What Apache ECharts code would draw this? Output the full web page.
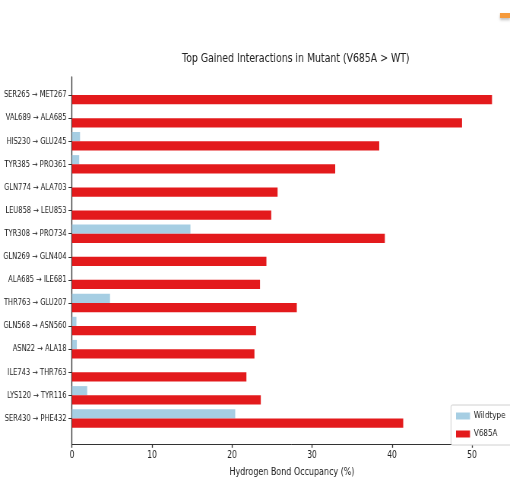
<!DOCTYPE html>
<html>
<head>
<meta charset="utf-8">
<script src="https://cdn.jsdelivr.net/npm/echarts@6/dist/echarts.min.js"></script>
<style>
  html, body { margin: 0; padding: 0; background: #fff; overflow: hidden; }
  /* the figure is laid out wide and then compressed horizontally */
  #chart { width: 671px; height: 481px; transform: scaleX(0.76); transform-origin: 0 0; }
</style>
</head>
<body>
<div id="chart"></div>
<script>
// Hydrogen-bond pairs gained in the mutant, listed top to bottom
const categories = [
  "SER265 → MET267", "VAL689 → ALA685", "HIS230 → GLU245", "TYR385 → PRO361",
  "GLN774 → ALA703", "LEU858 → LEU853", "TYR308 → PRO734", "GLN269 → GLN404",
  "ALA685 → ILE681", "THR763 → GLU207", "GLN568 → ASN560", "ASN22 → ALA18",
  "ILE743 → THR763", "LYS120 → TYR116", "SER430 → PHE432"
];
// Occupancy (%) per pair
const wildtype = [0, 0, 1.0, 0.9, 0, 0, 14.8, 0, 0, 4.75, 0.55, 0.6, 0, 1.9, 20.4];
const v685a = [52.5, 48.75, 38.4, 32.9, 25.7, 24.9, 39.1, 24.3, 23.5, 28.1, 23.0, 22.8, 21.8, 23.6, 41.4];
const seriesNames = ["Wildtype", "V685A"];
const xTickValues = [0, 10, 20, 30, 40, 50];
const xRange = [0, 55];

const FONT = "'DejaVu Sans', sans-serif";
const SX = 0.76;            // horizontal compression applied by the stylesheet
const px = v => v / SX;     // convert an on-screen horizontal length to layout units

const chart = echarts.init(document.getElementById("chart"), null, { renderer: "canvas" });

chart.setOption({
  animation: false,
  backgroundColor: "#ffffff",
  title: {
    text: "Top Gained Interactions in Mutant (V685A > WT)",
    left: px(292), top: 47.5, textAlign: "center",
    textStyle: { fontFamily: FONT, fontSize: 12.3, fontWeight: "normal", color: "#222" }
  },
  legend: {
    data: seriesNames,
    orient: "vertical",
    left: px(451), top: 405,
    itemWidth: px(14), itemHeight: 7, itemGap: 8,
    padding: [6, px(6), 6, px(5)],
    backgroundColor: "#fff",
    borderColor: "#d0d0d0", borderWidth: 1, borderRadius: 2,
    textStyle: { fontFamily: FONT, fontSize: 9.5, color: "#222" },
    icon: "rect"
  },
  grid: [
    // bar area: one band per pair
    { left: px(72), top: 83.5, width: px(440), height: 346.5, outerBoundsMode: "none", containLabel: false },
    // axes frame (left and bottom spines)
    { left: px(72), top: 77, width: px(440), height: 367.3, outerBoundsMode: "none", containLabel: false }
  ],
  xAxis: [
    {
      gridIndex: 0, type: "value", min: xRange[0], max: xRange[1],
      show: false
    },
    {
      gridIndex: 1, type: "value", min: xRange[0], max: xRange[1],
      name: "Hydrogen Bond Occupancy (%)", nameLocation: "middle", nameGap: 22,
      nameTextStyle: { fontFamily: FONT, fontSize: 10.5, color: "#222" },
      axisLine: { show: true, lineStyle: { color: "#333", width: 1 } },
      axisTick: { show: true, inside: false, length: 3.5, lineStyle: { color: "#333", width: px(1) }, customValues: xTickValues },
      axisLabel: { fontFamily: FONT, fontSize: 10, color: "#222", margin: 6, customValues: xTickValues },
      splitLine: { show: false }
    }
  ],
  yAxis: [
    {
      gridIndex: 0, type: "category", data: categories, inverse: true,
      axisLine: { show: false },
      axisTick: { show: true, alignWithLabel: true, length: px(3.5), lineStyle: { color: "#333" } },
      axisLabel: { fontFamily: FONT, fontSize: 8.8, color: "#222", margin: px(5.5), interval: 0 },
      splitLine: { show: false }
    },
    {
      gridIndex: 1, type: "value", min: 0, max: 1,
      axisLine: { show: true, lineStyle: { color: "#333", width: px(1) } },
      axisTick: { show: false }, axisLabel: { show: false }, splitLine: { show: false }
    }
  ],
  series: [
    {
      name: seriesNames[0], type: "bar", xAxisIndex: 0, yAxisIndex: 0,
      data: wildtype, barGap: "0%", barCategoryGap: "20%",
      itemStyle: { color: "#a6cee3" }
    },
    {
      name: seriesNames[1], type: "bar", xAxisIndex: 0, yAxisIndex: 0,
      data: v685a, barGap: "0%", barCategoryGap: "20%",
      itemStyle: { color: "#e31a1c" }
    }
  ],
  graphic: [
    {
      type: "rect", left: px(500), top: 13,
      shape: { width: px(10), height: 5 },
      style: { fill: "#f59a3c", shadowBlur: 3, shadowColor: "rgba(0,0,0,0.25)", shadowOffsetY: 2 }
    }
  ]
});
</script>
</body>
</html>
